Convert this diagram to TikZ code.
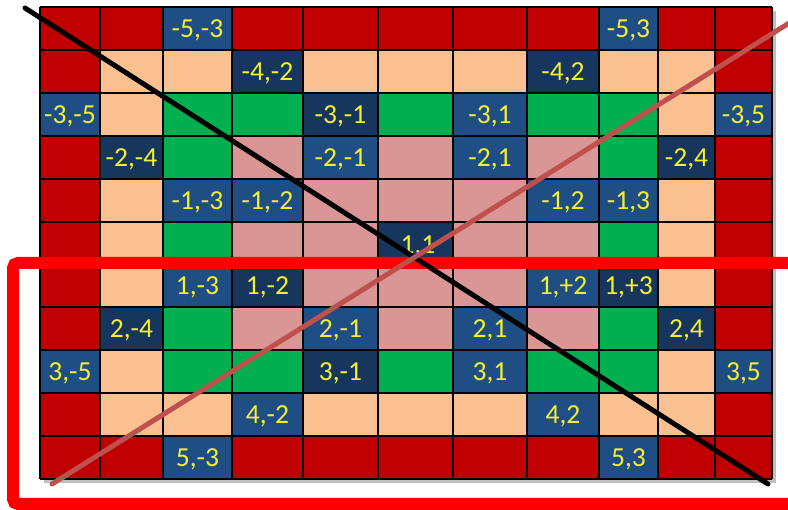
\documentclass[tikz,border=0pt]{standalone}
\usepackage{fontspec}
\setmainfont{Carlito}
\definecolor{cR}{HTML}{C00000}
\definecolor{cP}{HTML}{FAC090}
\definecolor{cG}{HTML}{00B050}
\definecolor{cK}{HTML}{D99694}
\definecolor{cB}{HTML}{1F4E85}
\definecolor{cD}{HTML}{17365D}
\definecolor{txtyellow}{HTML}{F5F032}
\definecolor{framered}{HTML}{FF0000}
\definecolor{diagred}{HTML}{C0504D}
\newcommand\gridrow[2]{%
  \foreach \col [count=\c] in {#2} {%
    \pgfmathsetmacro\xa{\XS[\c-1]}%
    \pgfmathsetmacro\xb{\XS[\c]}%
    \pgfmathsetmacro\ya{\YS[#1-1]}%
    \pgfmathsetmacro\yb{\YS[#1]}%
    \fill[c\col] (\xa,\ya) rectangle (\xb,\yb);
  }%
}
\begin{document}
\begin{tikzpicture}[x=1pt,y=-1pt,
  lbl/.style={text=txtyellow, font=\fontsize{27.5}{30}\selectfont, inner sep=0pt, text height=17.5pt, text depth=0pt},
  gridline/.style={line width=1.8pt, black},
  thickgrid/.style={line width=2.8pt, black},
  framebox/.style={draw=framered, line width=12pt, rounded corners=5pt},
  blackdiag/.style={black, line width=5pt, line cap=round},
  reddiag/.style={diagred, line width=5pt, line cap=round}]
\useasboundingbox (0,0) rectangle (788,510);
\clip (0,0) rectangle (788,510);
\def\XS{{40,100,163,232,303,378,453,527,599,658,715,772}}
\def\YS{{7,50,93,136,179,222,264,307,350,393,436,479}}
% shadow
\fill[black!25] (44,11) rectangle (776,483);
% cells
\gridrow{1}{R,R,B,R,R,R,R,R,B,R,R}
\gridrow{2}{R,P,P,D,P,P,P,D,P,P,R}
\gridrow{3}{B,P,G,G,D,G,B,G,G,P,B}
\gridrow{4}{R,D,G,K,B,K,B,K,G,D,R}
\gridrow{5}{R,P,B,B,K,K,K,B,B,P,R}
\gridrow{6}{R,P,G,K,K,D,K,K,G,P,R}
\gridrow{7}{R,P,B,D,K,K,K,B,D,P,R}
\gridrow{8}{R,D,G,K,B,K,B,K,G,D,R}
\gridrow{9}{B,P,G,G,D,G,B,G,G,P,B}
\gridrow{10}{R,P,P,B,P,P,P,B,P,P,R}
\gridrow{11}{R,R,B,R,R,R,R,R,B,R,R}
% grid lines
\foreach \i in {0,...,11} {
  \pgfmathsetmacro\xx{\XS[\i]}
  \draw[gridline] (\xx,7) -- (\xx,479);
  \pgfmathsetmacro\yy{\YS[\i]}
  \draw[gridline] (40,\yy) -- (772,\yy);
}
\draw[thickgrid] (40,222) -- (772,222);
% labels
\node[lbl] (l1c3) at (197.5,28.5) {-5,-3};
\node[lbl] (l1c9) at (628.5,28.5) {-5,3};
\node[lbl] (l2c4) at (267.5,71.5) {-4,-2};
\node[lbl] (l2c8) at (563,71.5) {-4,2};
\node[lbl] (l3c1) at (70,114.5) {-3,-5};
\node[lbl] (l3c5) at (340.5,114.5) {-3,-1};
\node[lbl] (l3c7) at (490,114.5) {-3,1};
\node[lbl] (l3c11) at (743.5,114.5) {-3,5};
\node[lbl] (l4c2) at (131.5,157.5) {-2,-4};
\node[lbl] (l4c5) at (340.5,157.5) {-2,-1};
\node[lbl] (l4c7) at (490,157.5) {-2,1};
\node[lbl] (l4c10) at (686.5,157.5) {-2,4};
\node[lbl] (l5c3) at (197.5,200.5) {-1,-3};
\node[lbl] (l5c4) at (267.5,200.5) {-1,-2};
\node[lbl] (l5c8) at (563,200.5) {-1,2};
\node[lbl] (l5c9) at (628.5,200.5) {-1,3};
\node[lbl] (l6c6) at (418,245) {1,1};
\node[lbl] (l7c3) at (197.5,285.5) {1,-3};
\node[lbl] (l7c4) at (267.5,285.5) {1,-2};
\node[lbl] (l7c8) at (563,285.5) {1,+2};
\node[lbl] (l7c9) at (628.5,285.5) {1,+3};
\node[lbl] (l8c2) at (131.5,328.5) {2,-4};
\node[lbl] (l8c5) at (340.5,328.5) {2,-1};
\node[lbl] (l8c7) at (490,328.5) {2,1};
\node[lbl] (l8c10) at (686.5,328.5) {2,4};
\node[lbl] (l9c1) at (70,371.5) {3,-5};
\node[lbl] (l9c5) at (340.5,371.5) {3,-1};
\node[lbl] (l9c7) at (490,371.5) {3,1};
\node[lbl] (l9c11) at (743.5,371.5) {3,5};
\node[lbl] (l10c4) at (267.5,414.5) {4,-2};
\node[lbl] (l10c8) at (563,414.5) {4,2};
\node[lbl] (l11c3) at (197.5,457.5) {5,-3};
\node[lbl] (l11c9) at (628.5,457.5) {5,3};
% red frame
\draw[framebox] (13,263) rectangle (830,504);
% diagonals
\coordinate (bd1) at (25,8);
\coordinate (bd2) at (768,484);
\coordinate (rd1) at (52,484);
\coordinate (rd2) at (810,10);
\draw[blackdiag] (bd1) -- (bd2);
\draw[reddiag] (rd1) -- (rd2);
\end{tikzpicture}
\end{document}
